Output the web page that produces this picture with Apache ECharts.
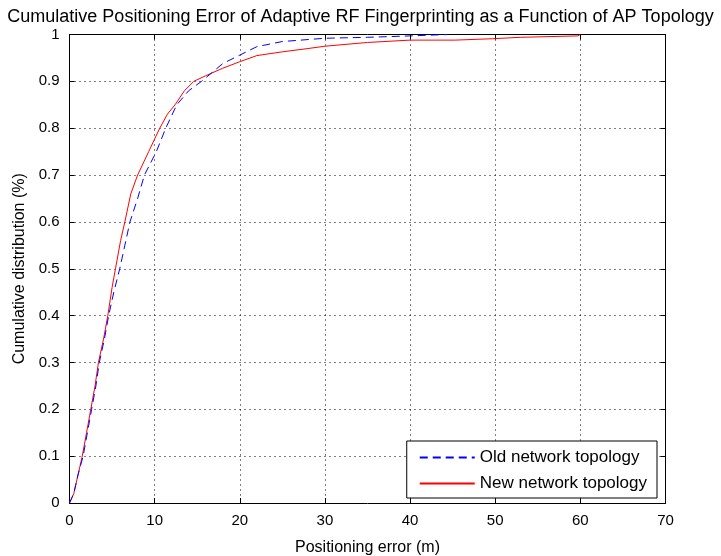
<!DOCTYPE html>
<html>
<head>
<meta charset="utf-8">
<script src="https://cdn.jsdelivr.net/npm/echarts@6/dist/echarts.min.js"></script>
<style>
  html, body { margin: 0; padding: 0; background: #fff; }
  #chart { width: 721px; height: 556px; }
</style>
</head>
<body>
<div id="chart"></div>
<script>
// positioning error (m) vs cumulative distribution
var oldTopology = [
  [0, 0], [0.5, 0.02], [1, 0.06], [1.6, 0.1], [2.1, 0.15], [2.6, 0.2],
  [3.1, 0.25], [3.5, 0.3], [4.1, 0.35], [4.6, 0.4], [5.2, 0.45], [5.9, 0.5],
  [6.5, 0.55], [7.1, 0.6], [8, 0.65], [8.8, 0.7], [10.2, 0.75], [11.3, 0.8],
  [12.6, 0.85], [14, 0.88], [15.5, 0.9], [16.5, 0.915], [18, 0.938],
  [20, 0.956], [22, 0.974], [25, 0.985], [30, 0.992], [35, 0.994],
  [40, 0.997], [44.4, 1]
]
var newTopology = [
  [0, 0], [0.5, 0.02], [1, 0.06], [1.5, 0.1], [2, 0.15], [2.5, 0.2],
  [3, 0.25], [3.4, 0.3], [4, 0.35], [4.5, 0.4], [5, 0.46], [5.4, 0.5],
  [6, 0.56], [6.5, 0.6], [7.2, 0.66], [8, 0.7], [9.3, 0.75], [10.6, 0.8],
  [11.5, 0.83], [12.4, 0.85], [13.5, 0.88], [14.6, 0.9], [16, 0.912],
  [18, 0.928], [20, 0.942], [22, 0.955], [25, 0.963], [28, 0.97],
  [30, 0.975], [35, 0.983], [40, 0.988], [45.3, 0.988], [45.3, 0.991],
  [49.7, 0.991], [49.7, 0.994], [53, 0.994], [53, 0.996], [59.7, 0.997],
  [59.7, 1], [60, 1]
]
var seriesNames = ['Old network topology', 'New network topology']

var font = 'Liberation Sans'
var chart = echarts.init(document.getElementById('chart'))

var gridLine = { show: true, lineStyle: { color: '#000', type: [1, 4], width: 1 } }
var axisLine = { show: true, onZero: false, lineStyle: { color: '#000', width: 1 } }
var tick = { show: true, inside: true, length: 5, lineStyle: { color: '#000' } }

chart.setOption({
  animation: false,
  backgroundColor: '#fff',
  title: {
    text: 'Cumulative Positioning Error of Adaptive RF Fingerprinting as a Function of AP Topology',
    left: 'center',
    top: 3,
    textStyle: { fontFamily: font, fontSize: 18, fontWeight: 'normal', color: '#000' }
  },
  grid: { left: 69.5, right: 55.5, top: 34.5, bottom: 53, outerBoundsMode: 'none', containLabel: false },
  legend: {
    data: seriesNames,
    orient: 'vertical',
    right: 64,
    bottom: 58,
    itemWidth: 55,
    itemHeight: 10,
    itemGap: 9,
    padding: [8, 10, 6, 12],
    borderColor: '#000',
    borderWidth: 1,
    backgroundColor: '#fff',
    itemStyle: { opacity: 0 },
    textStyle: { fontFamily: font, fontSize: 17, color: '#000' }
  },
  xAxis: [{
    type: 'value',
    min: 0, max: 70, interval: 10,
    name: 'Positioning error (m)',
    nameLocation: 'middle',
    nameGap: 37,
    nameTextStyle: { fontFamily: font, fontSize: 16, color: '#000' },
    axisLine: axisLine,
    axisTick: tick,
    axisLabel: { fontFamily: font, fontSize: 15, color: '#000', margin: 10 },
    splitLine: gridLine
  }, {
    type: 'value',
    position: 'top',
    min: 0, max: 70, interval: 10,
    axisLine: axisLine,
    axisTick: tick,
    axisLabel: { show: false },
    splitLine: { show: false }
  }],
  yAxis: [{
    type: 'value',
    min: 0, max: 1, interval: 0.1,
    name: 'Cumulative distribution (%)',
    nameLocation: 'middle',
    nameGap: 40,
    nameTextStyle: { fontFamily: font, fontSize: 16, color: '#000' },
    axisLine: axisLine,
    axisTick: tick,
    axisLabel: { fontFamily: font, fontSize: 15, color: '#000', margin: 10 },
    splitLine: gridLine
  }, {
    type: 'value',
    position: 'right',
    min: 0, max: 1, interval: 0.1,
    axisLine: axisLine,
    axisTick: tick,
    axisLabel: { show: false },
    splitLine: { show: false }
  }],
  series: [{
    name: seriesNames[0],
    type: 'line',
    data: oldTopology,
    symbol: 'none',
    z: 3,
    color: '#0000ff',
    lineStyle: { color: '#0000ff', width: 1, type: [8, 5] }
  }, {
    name: seriesNames[1],
    type: 'line',
    data: newTopology,
    symbol: 'none',
    z: 2,
    color: '#ff0000',
    lineStyle: { color: '#ff0000', width: 1 }
  }]
})
</script>
</body>
</html>
